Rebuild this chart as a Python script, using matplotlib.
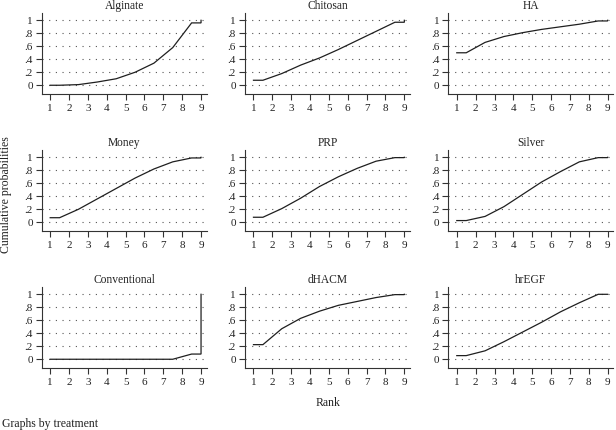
import numpy as np
import matplotlib
matplotlib.use("Agg")
import matplotlib.pyplot as plt

plt.rcParams['font.family'] = ['Liberation Serif', 'DejaVu Serif']

ranks = [1, 2, 3, 4, 5, 6, 7, 8, 9]
treatments = ["Alginate", "Chitosan", "HA",
              "Money", "PRP", "Silver",
              "Conventional", "dHACM", "hrEGF"]

alginate = [0.0, 0.01, 0.05, 0.10, 0.20, 0.34, 0.58, 0.96, 1.0]
chitosan = [0.077, 0.18, 0.31, 0.42, 0.55, 0.69, 0.83, 0.97, 1.0]
ha = [0.50, 0.66, 0.75, 0.81, 0.86, 0.90, 0.94, 0.99, 1.0]
money = [0.07, 0.20, 0.36, 0.52, 0.68, 0.82, 0.93, 0.99, 1.0]
prp = [0.077, 0.21, 0.37, 0.55, 0.70, 0.83, 0.94, 0.995, 1.0]
silver = [0.026, 0.09, 0.24, 0.43, 0.62, 0.78, 0.93, 0.995, 1.0]
conventional = [0.0, 0.0, 0.0, 0.0, 0.0, 0.0, 0.0, 0.08, 1.0]
dhacm = [0.225, 0.47, 0.63, 0.74, 0.83, 0.89, 0.95, 0.995, 1.0]
hregf = [0.056, 0.13, 0.27, 0.42, 0.57, 0.73, 0.87, 1.0, 1.0]

series = [alginate, chitosan, ha, money, prp, silver, conventional, dhacm, hregf]

yticks = [0, 0.2, 0.4, 0.6, 0.8, 1.0]
yticklabels = ["0", ".2", ".4", ".6", ".8", "1"]

W, H = 616, 430
fig = plt.figure(figsize=(W / 100, H / 100), dpi=100)

col_left = [41.7, 245.0, 448.3]
row_bottom = [93.7, 230.7, 367.7]
ax_w = 165.0
ax_h = 81.0

line_col = "#1f1f1f"
for i, (name, vals) in enumerate(zip(treatments, series)):
    r, c = divmod(i, 3)
    left = col_left[c] / W
    bottom = 1 - row_bottom[r] / H
    ax = fig.add_axes([left, bottom, ax_w / W, ax_h / H])
    rk = np.array(ranks, dtype=float)
    v = np.array(vals, dtype=float)
    # step-connected cumulative line: flat half-rank at ends
    xs = np.concatenate([[rk[0]], rk[:-1] + 0.5, [rk[-1], rk[-1]]])
    ys = np.concatenate([[v[0]], v[:-1], [v[-2], v[-1]]])
    ax.plot(xs, ys, color=line_col, lw=0.9, solid_joinstyle='miter')
    ax.set_xlim(0.55, 9.3)
    ax.set_ylim(-0.13, 1.117)
    ax.set_xticks(ranks)
    ax.set_xticklabels([str(k) for k in ranks])
    ax.set_yticks(yticks)
    ax.set_yticklabels(yticklabels)
    for yt in yticks:
        ax.axhline(yt, color="#555555", lw=0.8, ls=(0, (1, 5)), zorder=0)
    for s in ["top", "right"]:
        ax.spines[s].set_visible(False)
    for s in ["left", "bottom"]:
        ax.spines[s].set_color("#333333")
        ax.spines[s].set_linewidth(0.8)
    ax.tick_params(axis='x', direction='out', length=4, width=0.8,
                   color="#333333", labelsize=8, labelcolor="#222222", pad=3.5)
    ax.tick_params(axis='y', direction='out', length=4, width=0.8,
                   color="#333333", labelsize=8, labelcolor="#222222", pad=2.5)
    ax.set_title(name, fontsize=8.3, color="#222222", pad=3)

fig.text(6 / W, 1 - 195 / H, "Cumulative probabilities", rotation=90,
         ha='center', va='center', fontsize=8.5, color="#222222")
fig.text(328 / W, 1 - 403 / H, "Rank", ha='center', va='center',
         fontsize=8.5, color="#222222")
fig.text(2 / W, 1 - 424 / H, "Graphs by treatment", ha='left', va='center',
         fontsize=8.5, color="#222222")

fig.savefig("out.png", dpi=100, facecolor="white")
